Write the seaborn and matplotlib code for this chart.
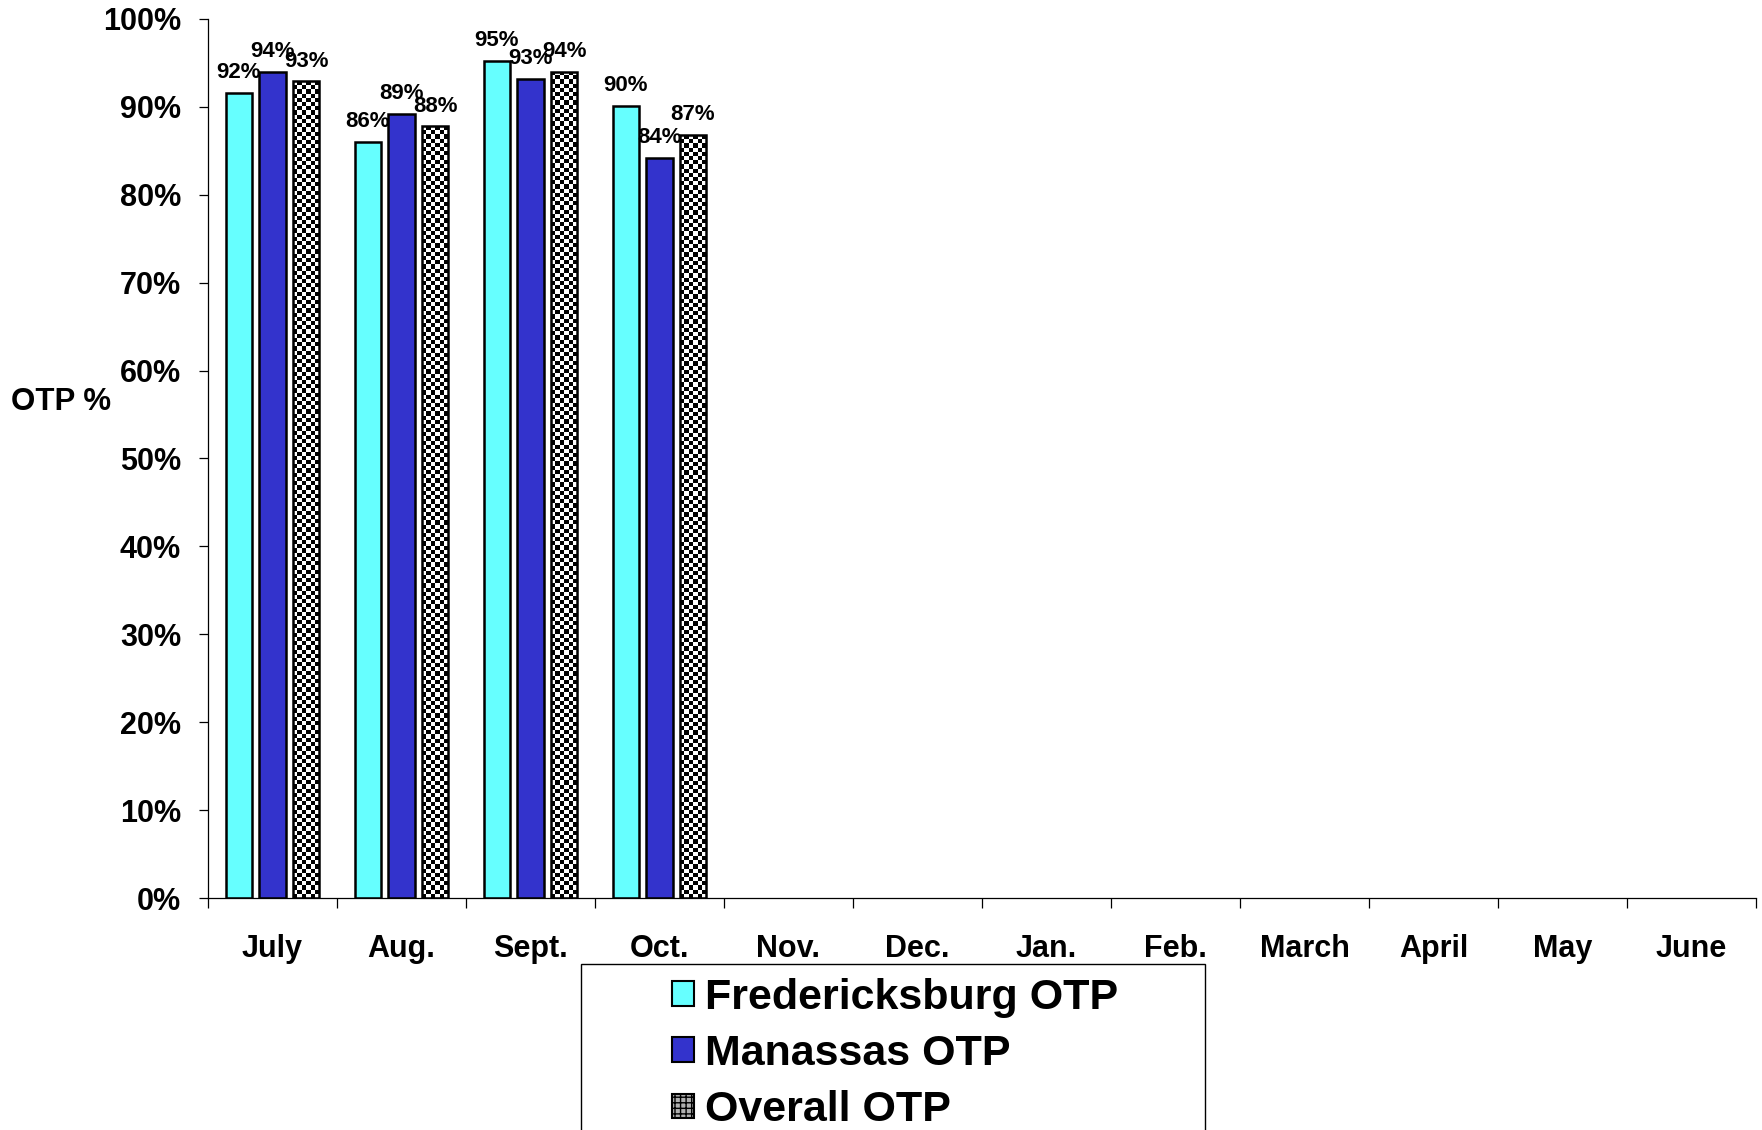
"""
Monthly on-time performance (OTP) by station, grouped bars.
"""

import numpy as np
import pandas as pd
import matplotlib
matplotlib.use("Agg")
import matplotlib.pyplot as plt
import matplotlib.patches as mpatches
import seaborn as sns

# Data
months = ["July", "Aug.", "Sept.", "Oct.", "Nov.", "Dec.",
          "Jan.", "Feb.", "March", "April", "May", "June"]
series = ["Fredericksburg OTP", "Manassas OTP", "Overall OTP"]
fred_otp = [91.6, 86.0, 95.2, 90.1]
manassas_otp = [94.0, 89.2, 93.2, 84.2]
overall_otp = [92.9, 87.8, 94.0, 86.8]
colors = ["#66FFFF", "#3333CC", "white"]

df = pd.DataFrame({
    "Month": months[:4] * 3,
    "Series": np.repeat(series, 4),
    "OTP": fred_otp + manassas_otp + overall_otp,
})

sns.set_style("white")
plt.rcParams["font.family"] = ["Liberation Sans", "DejaVu Sans"]
plt.rcParams["font.weight"] = "bold"
for key in ["text.color", "axes.labelcolor", "xtick.color", "ytick.color"]:
    plt.rcParams[key] = "black"

W, H = 1762, 1130
fig = plt.figure(figsize=(W / 100, H / 100), dpi=100)
ax = fig.add_axes([208 / W, 1 - 898 / H, 1548 / W, 879 / H])

sns.barplot(data=df, x="Month", y="OTP", hue="Series", order=months,
            hue_order=series, palette=dict(zip(series, colors)),
            width=0.78, gap=0.2, saturation=1, edgecolor="black",
            linewidth=1.8, legend=False, errorbar=None, ax=ax)

# checkerboard fill for the overall bars
px_x = 1548 / 12
px_y = 879 / 100
cell = 4.2
for bar in ax.containers[2]:
    x0, y0 = bar.get_x(), bar.get_y()
    w, h = bar.get_width(), bar.get_height()
    nx = max(1, int(round(w * px_x / cell)))
    ny = max(1, int(round(h * px_y / cell)))
    checker = np.add.outer(np.arange(ny), np.arange(nx)) % 2
    im = ax.imshow(checker, extent=(x0, x0 + w, y0, y0 + h), origin="lower",
                   cmap="gray", interpolation="nearest", aspect="auto",
                   zorder=2)
    im.set_clip_path(bar)
    bar.set_facecolor("none")
    bar.set_zorder(3)

ax.set_xlim(-0.5, 11.5)
ax.set_ylim(0, 100)
ax.set_aspect("auto")

# data labels
for cont in ax.containers:
    ax.bar_label(cont, fmt="{:.0f}%", padding=7, fontsize=16,
                 fontweight="bold", zorder=5)

# axes styling
sns.despine(ax=ax)
for side in ["left", "bottom"]:
    ax.spines[side].set_linewidth(0.9)
    ax.spines[side].set_color("black")

ax.set_yticks(np.arange(0, 101, 10))
ax.set_yticklabels([f"{v}%" for v in range(0, 101, 10)])
ax.tick_params(axis="y", direction="out", length=6.5, width=0.9,
               pad=13, labelsize=22, left=True)

ax.set_xticks(range(12))
ax.set_xticklabels(months)
ax.set_xticks(np.arange(-0.5, 12, 1), minor=True)
ax.tick_params(axis="x", which="major", length=0, pad=26, labelsize=22)
ax.tick_params(axis="x", which="minor", direction="out", length=7,
               width=0.9, bottom=True)

ax.set_xlabel("")
ax.set_ylabel("OTP %", rotation=0, fontsize=22.5, fontweight="bold",
              ha="left", va="center")
ax.yaxis.set_label_coords(-197 / 1548, (898 - 402) / 879)

# legend with a box that runs past the bottom edge
handles = [
    mpatches.Patch(facecolor=colors[0], edgecolor="black", linewidth=1.5),
    mpatches.Patch(facecolor=colors[1], edgecolor="black", linewidth=1.5),
    mpatches.Patch(facecolor="#B0B0B0", edgecolor="black", linewidth=1.5,
                   hatch="+++"),
]
fig.legend(handles, series, loc="upper left",
           bbox_to_anchor=(672 / W, 0.1345), frameon=False, fontsize=31,
           handlelength=0.51, handleheight=0.51, handletextpad=0.25,
           labelspacing=0.375, borderpad=0, borderaxespad=0)
fig.add_artist(mpatches.Rectangle((581 / W, -0.05), 624 / W, 0.05 + 166 / H,
                                  transform=fig.transFigure, fill=False,
                                  edgecolor="black", linewidth=1))

fig.savefig("out.png", dpi=100)
